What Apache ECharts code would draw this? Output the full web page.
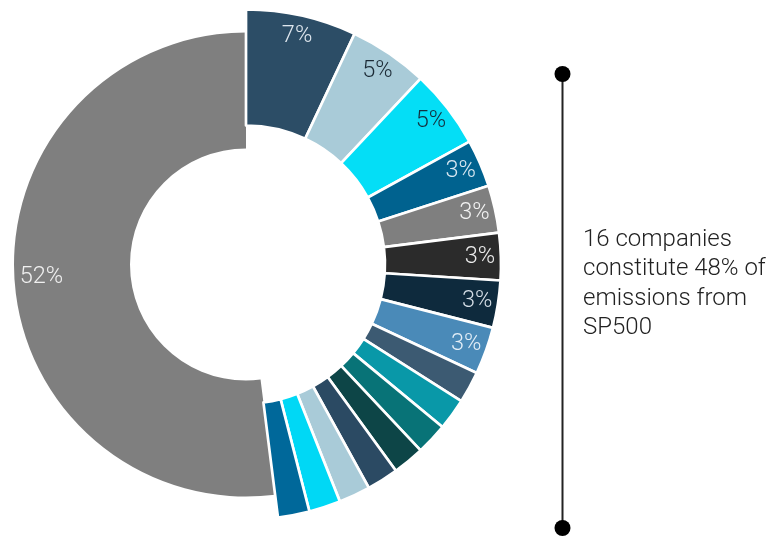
<!DOCTYPE html>
<html>
<head>
<meta charset="utf-8">
<script src="https://cdn.jsdelivr.net/npm/echarts@6/dist/echarts.min.js"></script>
<style>
  html, body { margin: 0; padding: 0; background: #ffffff; }
  #chart { width: 773px; height: 537px; }
</style>
</head>
<body>
<div id="chart"></div>
<script>
// Share of SP500 emissions (%) for the 16 largest emitters, clockwise from 12 o'clock
const companyShares = [7, 5, 5, 3, 3, 3, 3, 3, 2, 2, 2, 2, 2, 2, 2, 2];
const companyColors = [
  '#2c4d66', '#a9cbd8', '#04def6', '#00628f', '#7f7f7f', '#2b2b2b', '#0e2a3d', '#4a8ab8',
  '#3c5a72', '#0998a8', '#087377', '#0d4547', '#2b4a63', '#a9cbd8', '#00d8f5', '#00689a'
];
const companyLabelColors = [
  '#dfe7ee', '#1c2b36', '#14303f', '#d9e8f2', '#f2f2f2', '#ececec', '#d5dee6', '#e3eef7',
  '#ffffff', '#ffffff', '#ffffff', '#ffffff', '#ffffff', '#ffffff', '#ffffff', '#ffffff'
];
// Everything else in the index
const restShare = 52;
const restColor = '#7f7f7f';
const noteLines = ['16 companies', 'constitute 48% of', 'emissions from', 'SP500'];

const CENTER = [246, 264.5];
const companyTotal = companyShares.reduce((a, b) => a + b, 0);
const FONT = 'Roboto, "Noto Sans", sans-serif';
const hidden = { color: 'transparent', borderWidth: 0 };

const restRing = [
  { value: companyTotal, itemStyle: hidden, label: { show: false } },
  { value: restShare, itemStyle: { color: restColor } }
];

const companyRing = companyShares.map((v, i) => ({
  value: v,
  itemStyle: { color: companyColors[i], borderColor: '#ffffff', borderWidth: 2.7 }
})).concat([{ value: restShare, itemStyle: hidden }]);

// label-only rings: same values, drawn invisibly so the labels sit near the outer edge
const companyLabelRing = companyShares.map((v, i) => ({
  value: v,
  itemStyle: hidden,
  label: { show: v >= 3, color: companyLabelColors[i] }
})).concat([{ value: restShare, itemStyle: hidden, label: { show: false } }]);

const restLabelRing = [
  { value: companyTotal, itemStyle: hidden, label: { show: false } },
  { value: restShare, itemStyle: hidden, label: { show: true, color: '#f0f0f0' } }
];

const base = {
  type: 'pie',
  center: CENTER,
  startAngle: 90,
  clockwise: true,
  avoidLabelOverlap: false,
  animation: false,
  silent: true,
  emphasis: { disabled: true },
  labelLine: { show: false }
};

const labelStyle = {
  position: 'inside',
  formatter: p => p.value + '%',
  fontFamily: FONT,
  fontWeight: 300,
  fontSize: 23.5
};

const chart = echarts.init(document.getElementById('chart'), null, { renderer: 'canvas' });
chart.setOption({
  backgroundColor: '#ffffff',
  series: [
    Object.assign({}, base, { name: 'rest', radius: [116, 232], data: restRing, label: { show: false } }),
    Object.assign({}, base, { name: 'companies', radius: [139, 255], data: companyRing, label: { show: false } }),
    Object.assign({}, base, { name: 'companyLabels', radius: [207, 255], data: companyLabelRing, label: labelStyle }),
    Object.assign({}, base, { name: 'restLabels', radius: [172, 232], data: restLabelRing, label: labelStyle })
  ],
  graphic: [
    { type: 'line', shape: { x1: 562.5, y1: 74, x2: 562.5, y2: 528 }, style: { stroke: '#222222', lineWidth: 2 } },
    { type: 'circle', shape: { cx: 562.5, cy: 74, r: 8 }, style: { fill: '#000000' } },
    { type: 'circle', shape: { cx: 562.5, cy: 528, r: 8 }, style: { fill: '#000000' } },
    {
      type: 'text', left: 583, top: 225,
      style: {
        text: noteLines.join('\n'),
        fill: '#222222',
        font: '300 24px ' + FONT,
        lineHeight: 29.5
      }
    }
  ]
});
</script>
</body>
</html>
